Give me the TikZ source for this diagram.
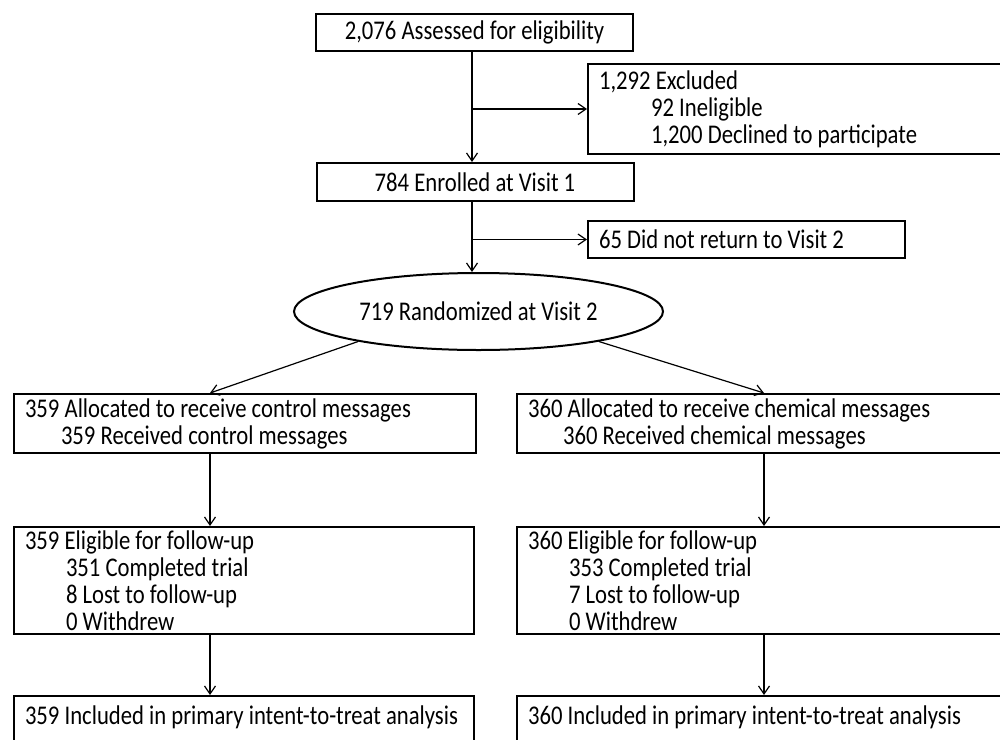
\documentclass[tikz,border=0pt]{standalone}
\usepackage{fontspec}
\setmainfont{Carlito}[FakeStretch=0.84]
\usetikzlibrary{shapes.geometric,arrows.meta}

\newcommand{\flowfont}{\fontsize{27}{27}\selectfont}
\newcommand{\ind}[1]{\hspace*{#1pt}}

\begin{document}
\begin{tikzpicture}[
  x=1pt, y=-1pt, % pixel units, y runs downwards
  every node/.style={draw=black, line width=2pt, font=\flowfont, inner sep=0pt},
  mainbox/.style={rectangle, minimum width=317pt, text centered}, % boxes on the spine
  listbox/.style={rectangle, anchor=north west, align=flush left, inner xsep=11pt}, % left-aligned boxes
  link/.style={draw, line width=1.2pt, -{Straight Barb[length=8pt,width=11pt]}} % connectors
]

\useasboundingbox (0,0) rectangle (1000,739);
\clip (0,0) rectangle (1000,739);

% Columns for the connectors
\coordinate (colM) at (472,0);
\coordinate (colL) at (210,0);
\coordinate (colR) at (764,0);

% Enrolment
\node[mainbox, minimum height=37pt] (assess) at (474.5,32.5) {2,076 Assessed for eligibility};
\node[listbox, text width=420pt, minimum height=90pt] (excl) at (587,63)
  {1,292 Excluded\\\ind{52}92 Ineligible\\\ind{52}1,200 Declined to participate};
\node[mainbox, minimum height=38pt] (enrol) at (475,182) {784 Enrolled at Visit 1};
\node[listbox, text width=295pt, minimum height=37pt] (noret) at (587,220) {65 Did not return to Visit 2};
\node[ellipse, minimum width=369pt, minimum height=77pt] (rand) at (478.5,311.5) {719 Randomized at Visit 2};

% Allocation
\node[listbox, text width=440pt, minimum height=59pt] (ctrl) at (13,393)
  {359 Allocated to receive control messages\\\ind{36}359 Received control messages};
\node[listbox, text width=500pt, minimum height=59pt] (chem) at (516,393)
  {360 Allocated to receive chemical messages\\\ind{35}360 Received chemical messages};

% Follow-up
\node[listbox, text width=438pt, minimum height=107pt] (eligL) at (13,526)
  {359 Eligible for follow-up\\\ind{41}351 Completed trial\\\ind{41}8 Lost to follow-up\\\ind{41}0 Withdrew};
\node[listbox, text width=500pt, minimum height=107pt] (eligR) at (516,526)
  {360 Eligible for follow-up\\\ind{41}353 Completed trial\\\ind{41}7 Lost to follow-up\\\ind{41}0 Withdrew};

% Analysis
\node[listbox, text width=438pt, inner ysep=9pt, text height=19pt, text depth=50pt] (ittL) at (13,695)
  {\mbox{359 Included in primary intent-to-treat analysis}};
\node[listbox, text width=500pt, inner ysep=9pt, text height=19pt, text depth=50pt] (ittR) at (516,695)
  {\mbox{360 Included in primary intent-to-treat analysis}};

% Connectors
\draw[link] (colM |- assess.south) -- (colM |- enrol.north);
\draw[link] (colM |- excl.west) -- (excl.west);
\draw[link] (colM |- enrol.south) -- (colM |- rand.north);
\draw[link] (colM |- noret.west) -- (noret.west);
\draw[link] (rand.194) -- (colL |- ctrl.north);
\draw[link] (rand.346) -- (colR |- chem.north);
\draw[link] (colL |- ctrl.south) -- (colL |- eligL.north);
\draw[link] (colR |- chem.south) -- (colR |- eligR.north);
\draw[link] (colL |- eligL.south) -- (colL |- ittL.north);
\draw[link] (colR |- eligR.south) -- (colR |- ittR.north);

\end{tikzpicture}
\end{document}
